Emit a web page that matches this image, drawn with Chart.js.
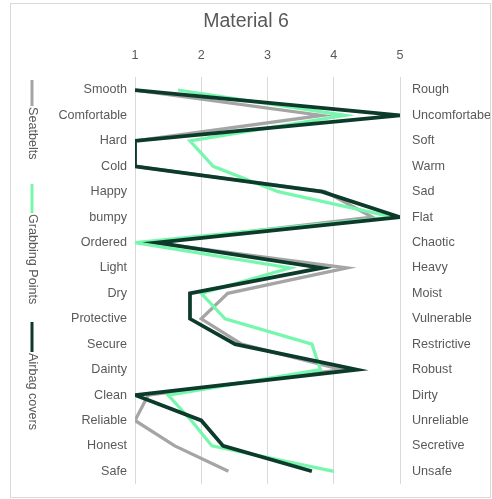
<!DOCTYPE html>
<html>
<head>
<meta charset="utf-8">
<script src="https://cdn.jsdelivr.net/npm/chart.js@4.4.1/dist/chart.umd.min.js"></script>
<style>
  html, body { margin: 0; padding: 0; background: #ffffff; }
  #wrap { position: relative; width: 492px; height: 499px; }
  canvas { display: block; }
</style>
</head>
<body>
<div id="wrap"><canvas id="c" width="492" height="499"></canvas></div>
<script>
// Semantic differential: left-hand adjectives, right-hand opposites, scale 1..5
const leftLabels = ['Smooth', 'Comfortable', 'Hard', 'Cold', 'Happy', 'bumpy', 'Ordered', 'Light',
  'Dry', 'Protective', 'Secure', 'Dainty', 'Clean', 'Reliable', 'Honest', 'Safe'];
const rightLabels = ['Rough', 'Uncomfortabe', 'Soft', 'Warm', 'Sad', 'Flat', 'Chaotic', 'Heavy',
  'Moist', 'Vulnerable', 'Restrictive', 'Robust', 'Dirty', 'Unreliable', 'Secretive', 'Unsafe'];
const scaleTicks = [1, 2, 3, 4, 5];

const seatbelts      = [1, 3.82, 1, 1, 3.87, 4.58, 1.28, 4.2, 2.4, 2.0, 2.61, 4.12, 1.2, 1, 1.6, 2.41];
const grabbingPoints = [1.65, 4.17, 1.83, 2.18, 3.16, 4.9, 1, 3.34, 2.0, 2.36, 3.67, 3.8, 1.5, 1.85, 2.16, 4.0];
const airbagCovers   = [1, 5, 1, 1, 3.82, 5, 1.33, 3.82, 1.83, 1.83, 2.51, 4.35, 1, 2.0, 2.33, 3.67];

const TEXT = '#595959';
const GRID = '#d9d9d9';
const FONT = "'Liberation Sans', Arial, sans-serif";
const LABEL_SIZE = 12.6;

// Vertical legend on the left edge, with rotated text, plus the outer frame
const sideLegend = {
  id: 'sideLegend',
  afterDraw(chart) {
    const ctx = chart.ctx;
    ctx.save();
    ctx.strokeStyle = GRID;
    ctx.lineWidth = 1;
    ctx.strokeRect(10.5, 3.5, 480, 494);

    const starts = [80, 184, 322];
    const lengths = [26, 29, 30];
    chart.data.datasets.forEach((ds, i) => {
      const x = 32, y = starts[i];
      ctx.strokeStyle = ds.borderColor;
      ctx.lineWidth = 3;
      ctx.lineCap = 'butt';
      ctx.beginPath();
      ctx.moveTo(x, y);
      ctx.lineTo(x, y + lengths[i]);
      ctx.stroke();
      ctx.save();
      ctx.translate(x, y + lengths[i] + 1);
      ctx.rotate(Math.PI / 2);
      ctx.fillStyle = TEXT;
      ctx.font = LABEL_SIZE + 'px ' + FONT;
      ctx.textAlign = 'left';
      ctx.textBaseline = 'middle';
      ctx.fillText(ds.label, 0, 0);
      ctx.restore();
    });
    ctx.restore();
  }
};

// Fixed-width side axes with no extra label overhang above/below
function fixSide(width) {
  return function (scale) {
    scale.width = width;
    scale.paddingTop = 0;
    scale.paddingBottom = 0;
  };
}

new Chart(document.getElementById('c'), {
  type: 'line',
  data: {
    labels: leftLabels,
    datasets: [
      { label: 'Seatbelts', data: seatbelts, borderColor: '#a5a5a5', borderWidth: 3.25, order: 3 },
      { label: 'Grabbing Points', data: grabbingPoints, borderColor: '#77f7ad', borderWidth: 3.25, order: 2 },
      { label: 'Airbag covers', data: airbagCovers, borderColor: '#0c3b2c', borderWidth: 3.75, order: 1 }
    ].map(d => Object.assign(d, {
      pointRadius: 0, pointHoverRadius: 0, tension: 0, fill: false,
      backgroundColor: d.borderColor
    }))
  },
  options: {
    indexAxis: 'y',
    responsive: false,
    animation: false,
    events: [],
    layout: { padding: { top: 0, left: 0, right: 0, bottom: 15 } },
    plugins: {
      legend: { display: false },
      tooltip: { enabled: false },
      title: {
        display: true,
        text: 'Material 6',
        color: TEXT,
        font: { family: FONT, size: 19.5, weight: 'normal' },
        padding: { top: 10, bottom: 0 }
      }
    },
    scales: {
      x: {
        type: 'linear',
        position: 'top',
        min: 1, max: 5,
        afterBuildTicks(scale) { scale.ticks = scaleTicks.map(v => ({ value: v })); },
        afterFit(scale) { scale.height = 43.9; },
        grid: { color: GRID, lineWidth: 1, drawTicks: false },
        border: { display: false },
        ticks: { color: TEXT, font: { family: FONT, size: LABEL_SIZE }, padding: 14 }
      },
      y: {
        type: 'category',
        position: 'left',
        offset: true,
        afterFit: fixSide(135),
        grid: { display: false, drawTicks: false },
        border: { display: false },
        ticks: { color: TEXT, font: { family: FONT, size: LABEL_SIZE }, padding: 8, autoSkip: false }
      },
      y2: {
        type: 'category',
        position: 'right',
        labels: rightLabels,
        offset: true,
        afterFit: fixSide(92),
        grid: { display: false, drawTicks: false },
        border: { display: false },
        ticks: { color: TEXT, font: { family: FONT, size: LABEL_SIZE }, padding: 12, autoSkip: false }
      }
    }
  },
  plugins: [sideLegend]
});
</script>
</body>
</html>
